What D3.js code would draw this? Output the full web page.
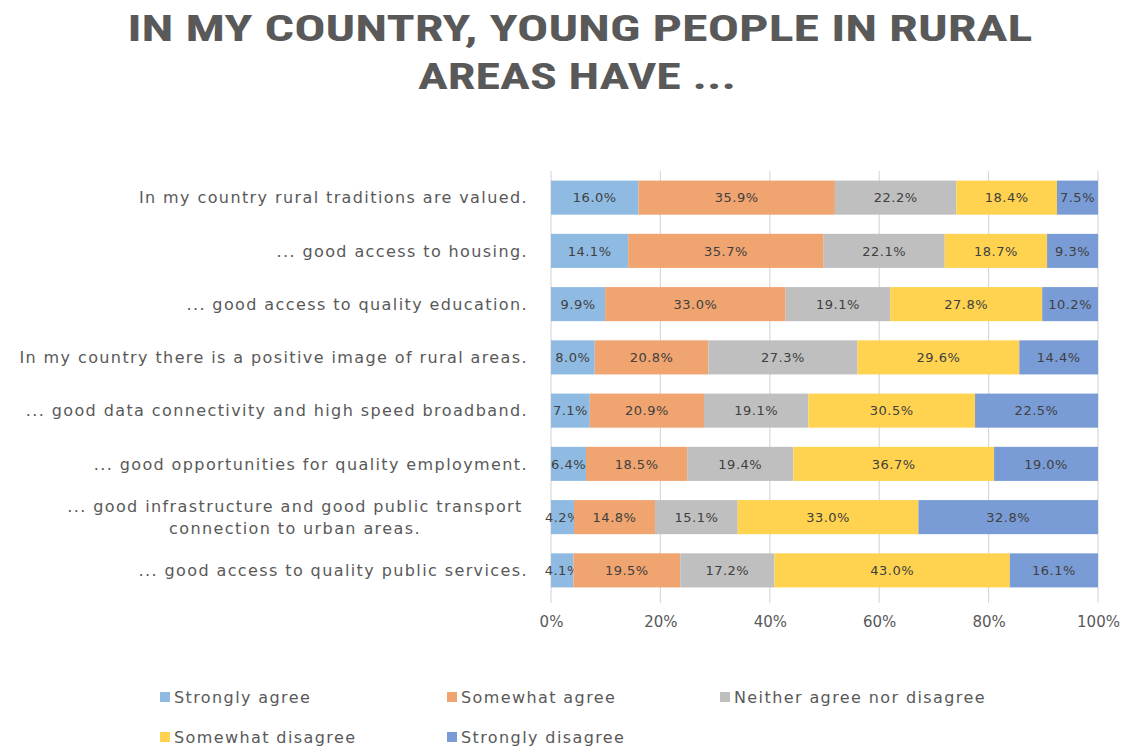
<!DOCTYPE html>
<html>
<head>
<meta charset="utf-8">
<script src="https://cdn.jsdelivr.net/npm/d3@7"></script>
<style>
  body { margin: 0; background: #fff; }
  svg { display: block; }
</style>
</head>
<body>
<svg id="canvas"></svg>
<script>
var width = 1130,
	height = 749;

// data
var categories = [
	"In my country rural traditions are valued.",
	"... good access to housing.",
	"... good access to quality education.",
	"In my country there is a positive image of rural areas.",
	"... good data connectivity and high speed broadband.",
	"... good opportunities for quality employment.",
	"... good infrastructure and good public transport|connection to urban areas.",
	"... good access to quality public services."
];
var seriesNames = ["Strongly agree", "Somewhat agree", "Neither agree nor disagree", "Somewhat disagree", "Strongly disagree"];
var stronglyAgree    = [16.0, 14.1, 9.9, 8.0, 7.1, 6.4, 4.2, 4.1];
var somewhatAgree    = [35.9, 35.7, 33.0, 20.8, 20.9, 18.5, 14.8, 19.5];
var neither          = [22.2, 22.1, 19.1, 27.3, 19.1, 19.4, 15.1, 17.2];
var somewhatDisagree = [18.4, 18.7, 27.8, 29.6, 30.5, 36.7, 33.0, 43.0];
var stronglyDisagree = [7.5, 9.3, 10.2, 14.4, 22.5, 19.0, 32.8, 16.1];
var ticks = [0, 0.2, 0.4, 0.6, 0.8, 1];

var colors = ["#8fbbe3", "#f0a46f", "#bfbfbf", "#ffd34f", "#7a9cd6"];
var series = [stronglyAgree, somewhatAgree, neither, somewhatDisagree, stronglyDisagree];

// 100% stacked: each row is scaled to its own total
var rows = categories.map(function(c, i) {
	var row = { cat: c };
	var total = 0;
	series.forEach(function(s) { total += s[i]; });
	seriesNames.forEach(function(n, j) { row[n] = series[j][i] / total; row["raw" + j] = series[j][i]; });
	return row;
});

var stack = d3.stack().keys(seriesNames)(rows);

var svg = d3.select("#canvas")
	.attr("width", width)
	.attr("height", height);

var margin = { left: 551, right: 32, top: 171, bottom: 152 };

var x = d3.scaleLinear()
	.domain([0, 1])
	.range([margin.left, width - margin.right]);

var y = d3.scaleBand()
	.domain(categories)
	.range([margin.top, height - margin.bottom])
	.paddingInner(0.36)
	.paddingOuter(0.18);

// title
var title = svg.append("text")
	.attr("x", 580)
	.attr("text-anchor", "middle")
	.attr("fill", "#595959")
	.style("font-family", "'Liberation Sans Narrow', 'Roboto Condensed', 'Liberation Sans', sans-serif")
	.style("font-weight", "bold")
	.style("font-size", "37px");
title.append("tspan").attr("x", 580).attr("y", 41)
	.attr("textLength", 905).attr("lengthAdjust", "spacingAndGlyphs")
	.text("IN MY COUNTRY, YOUNG PEOPLE IN RURAL");
title.append("tspan").attr("x", 577).attr("y", 89)
	.attr("textLength", 318).attr("lengthAdjust", "spacingAndGlyphs")
	.text("AREAS HAVE ...");

// gridlines
svg.append("g")
	.selectAll("line")
	.data(ticks)
	.enter()
	.append("line")
	.attr("x1", function(d){ return x(d); })
	.attr("x2", function(d){ return x(d); })
	.attr("y1", margin.top)
	.attr("y2", height - margin.bottom + 6)
	.attr("stroke", "#d9d9d9")
	.attr("stroke-width", 1.2);

// x axis labels
var xAxis = d3.axisBottom(x)
	.tickValues(ticks)
	.tickFormat(d3.format(".0%"))
	.tickSize(0)
	.tickPadding(19);

var gx = svg.append("g")
	.attr("transform", "translate(0," + (height - margin.bottom) + ")")
	.call(xAxis);
gx.select(".domain").remove();
gx.selectAll("text")
	.attr("fill", "#595959")
	.style("font-family", "'DejaVu Sans', sans-serif")
	.style("font-size", "15px");

// bars
var layer = svg.selectAll(".layer")
	.data(stack)
	.enter()
	.append("g")
	.attr("fill", function(d, i){ return colors[i]; });

layer.selectAll("rect")
	.data(function(d){ return d; })
	.enter()
	.append("rect")
	.attr("x", function(d){ return x(d[0]); })
	.attr("width", function(d){ return x(d[1]) - x(d[0]); })
	.attr("y", function(d){ return y(d.data.cat); })
	.attr("height", y.bandwidth());

// data labels
layer.each(function(s, j) {
	d3.select(this).selectAll("text")
		.data(s)
		.enter()
		.append("text")
		.attr("x", function(d){ return (x(d[0]) + x(d[1])) / 2; })
		.attr("y", function(d){ return y(d.data.cat) + y.bandwidth() / 2; })
		.attr("dy", "0.36em")
		.attr("text-anchor", "middle")
		.attr("fill", "#404040")
		.style("font-family", "'DejaVu Sans', sans-serif")
		.style("font-size", "13px")
		.style("letter-spacing", "0.5px")
		.text(function(d){ return d.data["raw" + j].toFixed(1) + "%"; });
});

// category labels
svg.append("g")
	.selectAll("text")
	.data(categories)
	.enter()
	.append("text")
	.attr("fill", "#595959")
	.style("font-family", "'DejaVu Sans', sans-serif")
	.style("font-size", "16px")
	.style("letter-spacing", "1.4px")
	.each(function(c) {
		var lines = c.split("|");
		var t = d3.select(this);
		var cy = y(c) + y.bandwidth() / 2;
		if (lines.length === 1) {
			t.attr("text-anchor", "end")
				.append("tspan")
				.attr("x", 528)
				.attr("y", cy)
				.attr("dy", "0.36em")
				.text(lines[0]);
		} else {
			t.attr("text-anchor", "middle");
			lines.forEach(function(l, k) {
				t.append("tspan")
					.attr("x", 295)
					.attr("y", cy + (k - (lines.length - 1) / 2) * 22)
					.attr("dy", "0.36em")
					.text(l);
			});
		}
	});

// legend
var legendPos = [[160, 697], [447, 697], [720, 697], [160, 737], [447, 737]];
var legend = svg.append("g")
	.selectAll("g")
	.data(seriesNames)
	.enter()
	.append("g")
	.attr("transform", function(d, i){ return "translate(" + legendPos[i][0] + "," + legendPos[i][1] + ")"; });

legend.append("rect")
	.attr("x", 0)
	.attr("y", -5)
	.attr("width", 10)
	.attr("height", 10)
	.attr("fill", function(d, i){ return colors[i]; });

legend.append("text")
	.attr("x", 14)
	.attr("dy", "0.36em")
	.attr("fill", "#595959")
	.style("font-family", "'DejaVu Sans', sans-serif")
	.style("font-size", "16px")
	.style("letter-spacing", "1.4px")
	.text(function(d){ return d; });
</script>
</body>
</html>
